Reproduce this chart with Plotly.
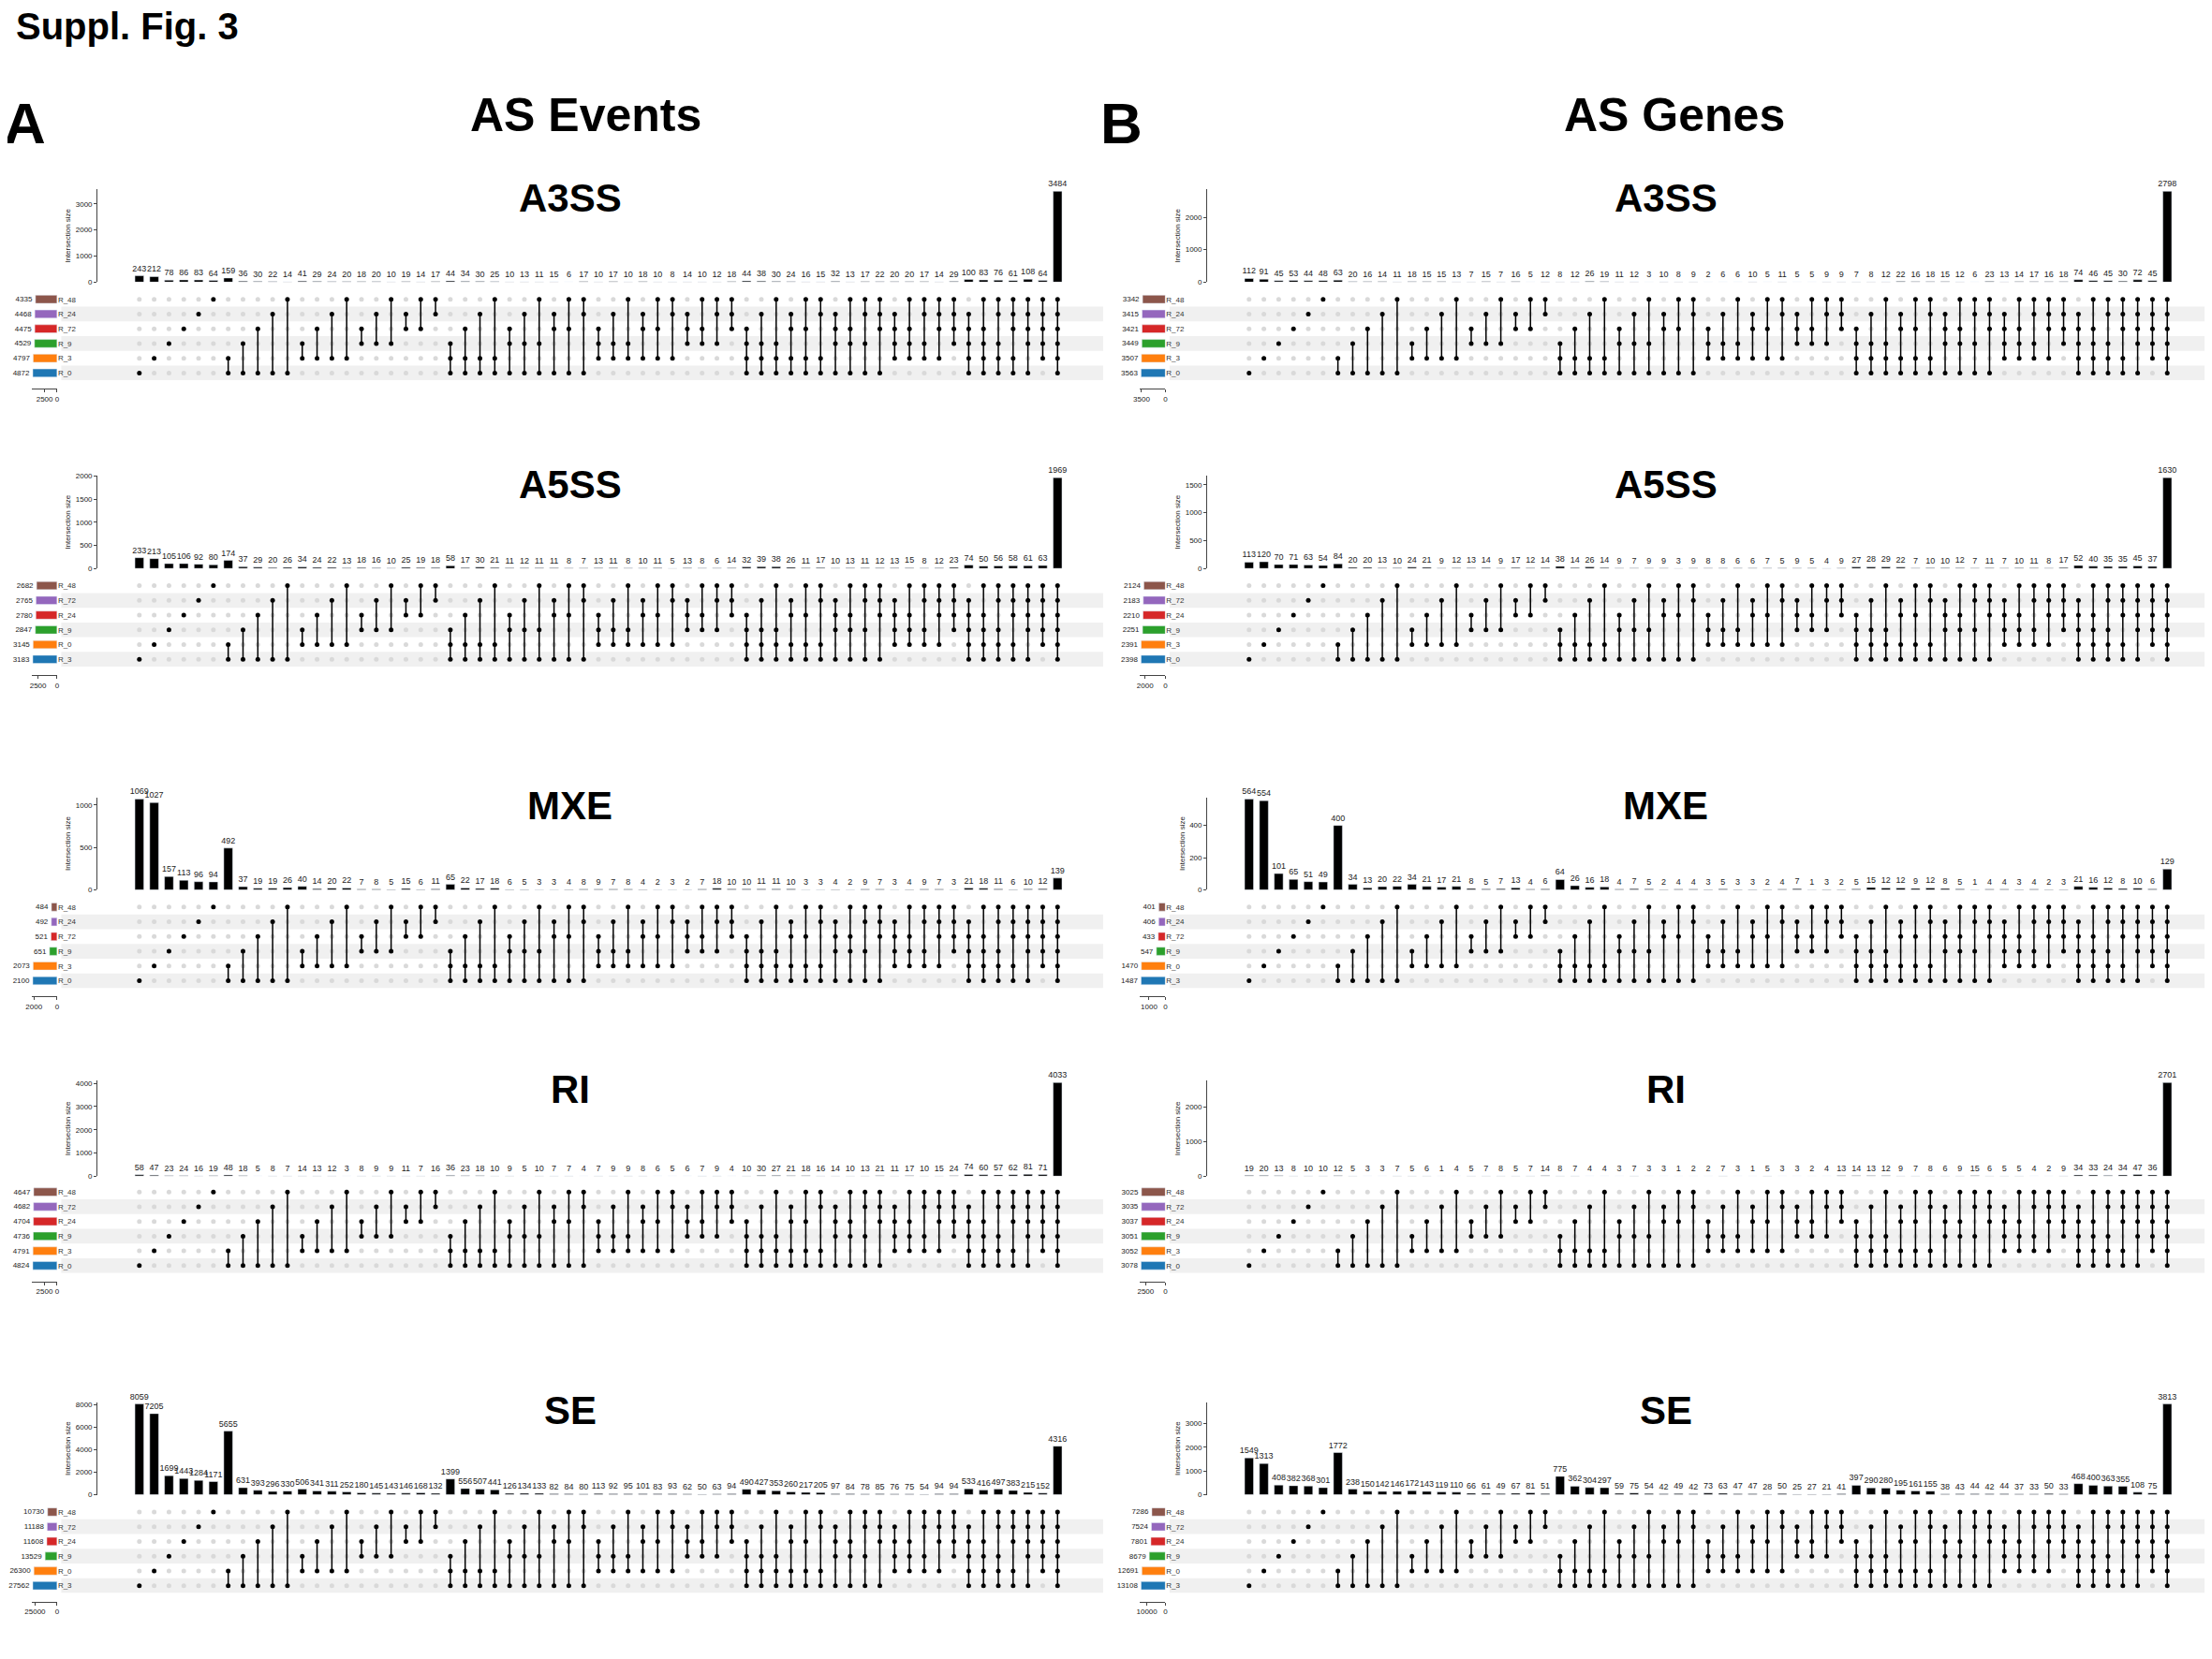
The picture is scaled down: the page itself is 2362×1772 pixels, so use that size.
import itertools
import plotly.graph_objects as go

# ---------------- data ----------------
titles = ["A3SS", "A5SS", "MXE", "RI", "SE"]

ev_a3ss = [243,212,78,86,83,64,159,36,30,22,14,41,29,24,20,18,20,10,19,14,17,44,34,30,25,10,13,11,15,6,17,10,17,10,18,10,8,14,10,12,18,44,38,30,24,16,15,32,13,17,22,20,20,17,14,29,100,83,76,61,108,64,3484]
ev_a5ss = [233,213,105,106,92,80,174,37,29,20,26,34,24,22,13,18,16,10,25,19,18,58,17,30,21,11,12,11,11,8,7,13,11,8,10,11,5,13,8,6,14,32,39,38,26,11,17,10,13,11,12,13,15,8,12,23,74,50,56,58,61,63,1969]
ev_mxe = [1069,1027,157,113,96,94,492,37,19,19,26,40,14,20,22,7,8,5,15,6,11,65,22,17,18,6,5,3,3,4,8,9,7,8,4,2,3,2,7,18,10,10,11,11,10,3,3,4,2,9,7,3,4,9,7,3,21,18,11,6,10,12,139]
ev_ri = [58,47,23,24,16,19,48,18,5,8,7,14,13,12,3,8,9,9,11,7,16,36,23,18,10,9,5,10,7,7,4,7,9,9,8,6,5,6,7,9,4,10,30,27,21,18,16,14,10,13,21,11,17,10,15,24,74,60,57,62,81,71,4033]
ev_se = [8059,7205,1699,1443,1284,1171,5655,631,393,296,330,506,341,311,252,180,145,143,146,168,132,1399,556,507,441,126,134,133,82,84,80,113,92,95,101,83,93,62,50,63,94,490,427,353,260,217,205,97,84,78,85,76,75,54,94,94,533,416,497,383,215,152,4316]

ge_a3ss = [112,91,45,53,44,48,63,20,16,14,11,18,15,15,13,7,15,7,16,5,12,8,12,26,19,11,12,3,10,8,9,2,6,6,10,5,11,5,5,9,9,7,8,12,22,16,18,15,12,6,23,13,14,17,16,18,74,46,45,30,72,45,2798]
ge_a5ss = [113,120,70,71,63,54,84,20,20,13,10,24,21,9,12,13,14,9,17,12,14,38,14,26,14,9,7,9,9,3,9,8,8,6,6,7,5,9,5,4,9,27,28,29,22,7,10,10,12,7,11,7,10,11,8,17,52,40,35,35,45,37,1630]
ge_mxe = [564,554,101,65,51,49,400,34,13,20,22,34,21,17,21,8,5,7,13,4,6,64,26,16,18,4,7,5,2,4,4,3,5,3,3,2,4,7,1,3,2,5,15,12,12,9,12,8,5,1,4,4,3,4,2,3,21,16,12,8,10,6,129]
ge_ri = [19,20,13,8,10,10,12,5,3,3,7,5,6,1,4,5,7,8,5,7,14,8,7,4,4,3,7,3,3,1,2,2,7,3,1,5,3,3,2,4,13,14,13,12,9,7,8,6,9,15,6,5,5,4,2,9,34,33,24,34,47,36,2701]
ge_se = [1549,1313,408,382,368,301,1772,238,150,142,146,172,143,119,110,66,61,49,67,81,51,775,362,304,297,59,75,54,42,49,42,73,63,47,47,28,50,25,27,21,41,397,290,280,195,161,155,38,43,44,42,44,37,33,50,33,468,400,363,355,108,75,3813]

# set names / sizes listed top-to-bottom, plus the set-size axis tick
ev_sets = [
    (["R_48","R_24","R_72","R_9","R_3","R_0"], [4335,4468,4475,4529,4797,4872], 2500),
    (["R_48","R_72","R_24","R_9","R_0","R_3"], [2682,2765,2780,2847,3145,3183], 2500),
    (["R_48","R_24","R_72","R_9","R_3","R_0"], [484,492,521,651,2073,2100], 2000),
    (["R_48","R_72","R_24","R_9","R_3","R_0"], [4647,4682,4704,4736,4791,4824], 2500),
    (["R_48","R_72","R_24","R_9","R_0","R_3"], [10730,11188,11608,13529,26300,27562], 25000),
]
ge_sets = [
    (["R_48","R_24","R_72","R_9","R_3","R_0"], [3342,3415,3421,3449,3507,3563], 3500),
    (["R_48","R_72","R_24","R_9","R_3","R_0"], [2124,2183,2210,2251,2391,2398], 2000),
    (["R_48","R_24","R_72","R_9","R_0","R_3"], [401,406,433,547,1470,1487], 1000),
    (["R_48","R_72","R_24","R_9","R_3","R_0"], [3025,3035,3037,3051,3052,3078], 2500),
    (["R_48","R_72","R_24","R_9","R_0","R_3"], [7286,7524,7801,8679,12691,13108], 10000),
]
row_colors = ["#8c564b", "#9467bd", "#d62728", "#2ca02c", "#ff7f0e", "#1f77b4"]

# ---------------- layout helpers ----------------
W, H = 1568.0, 1176.0
def px(x): return max(0.0, ((x - 11.6) / 0.9937) / W)
def py(y): return min(1.0, 1 - (y - 6) / H)

rows_y = [(133, 199, 206, 269), (337, 403, 410, 473), (566, 632, 639, 702),
          (768, 836, 842, 905), (997, 1063, 1070, 1133)]
cols_x = [dict(set=(24, 42), mat=(95, 755), stripe=(45, 782), bar=(95, 755)),
          dict(set=(808, 826), mat=(880, 1540), stripe=(829, 1566), bar=(880, 1540))]

combos = []
for k in range(1, 7):
    combos += list(itertools.combinations(range(6), k))

fig = go.Figure()
layout = {}
shapes = []
annotations = []
FONT = "Liberation Sans, Arial, sans-serif"

panels = [(0, i, [ev_a3ss, ev_a5ss, ev_mxe, ev_ri, ev_se][i], ev_sets[i]) for i in range(5)] + \
         [(1, i, [ge_a3ss, ge_a5ss, ge_mxe, ge_ri, ge_se][i], ge_sets[i]) for i in range(5)]

for p, (c, r, vals, (names, sizes, stick)) in enumerate(panels):
    nb, nm, ns = 3 * p + 1, 3 * p + 2, 3 * p + 3
    def ax(n): return "" if n == 1 else str(n)
    cx, ry = cols_x[c], rows_y[r]
    n = len(vals)
    xs = list(range(n))
    fig.add_trace(go.Bar(x=xs, y=vals, text=[str(v) for v in vals], textposition="outside",
                         constraintext="none", textangle=0,
                         textfont=dict(size=9, color="#222"), marker_color="black", width=0.6,
                         cliponaxis=False, xaxis="x" + ax(nb), yaxis="y" + ax(nb), showlegend=False))
    layout["xaxis" + ax(nb)] = dict(domain=[px(cx["bar"][0]), px(cx["bar"][1])], range=[-0.5, n - 0.5],
                                   anchor="y" + ax(nb), showticklabels=False, showgrid=False, zeroline=False)
    layout["yaxis" + ax(nb)] = dict(domain=[py(ry[1]), py(ry[0])], range=[0, max(vals) * 1.02],
                                   anchor="free", position=px(cx["bar"][0] - 25), showgrid=False, zeroline=False,
                                   showline=True, linecolor="#444", ticks="outside", ticklen=3, nticks=5,
                                   tickfont=dict(size=8), title=dict(text="Intersection size", font=dict(size=8), standoff=2))
    gx, gy, bx, by, lx, ly = [], [], [], [], [], []
    for j, cmb in enumerate(combos[:n]):
        for k in range(6):
            if k in cmb:
                bx.append(j); by.append(k)
            else:
                gx.append(j); gy.append(k)
        if len(cmb) > 1:
            lx += [j, j, None]; ly += [min(cmb), max(cmb), None]
    fig.add_trace(go.Scatter(x=gx, y=gy, mode="markers", marker=dict(size=5, color="#d9d9d9"),
                             xaxis="x" + ax(nm), yaxis="y" + ax(nm), showlegend=False, hoverinfo="skip"))
    fig.add_trace(go.Scatter(x=lx, y=ly, mode="lines", line=dict(color="black", width=1.5),
                             xaxis="x" + ax(nm), yaxis="y" + ax(nm), showlegend=False, hoverinfo="skip"))
    fig.add_trace(go.Scatter(x=bx, y=by, mode="markers", marker=dict(size=5, color="black"),
                             xaxis="x" + ax(nm), yaxis="y" + ax(nm), showlegend=False, hoverinfo="skip"))
    layout["xaxis" + ax(nm)] = dict(domain=[px(cx["mat"][0]), px(cx["mat"][1])], range=[-0.5, n - 0.5],
                                   anchor="y" + ax(nm), visible=False)
    layout["yaxis" + ax(nm)] = dict(domain=[py(ry[3]), py(ry[2])], range=[-0.5, 5.5],
                                   anchor="x" + ax(nm), visible=False)
    for k in (0, 2, 4):
        shapes.append(dict(type="rect", xref="paper", yref="y" + ax(nm), x0=px(cx["stripe"][0]),
                           x1=min(1.0, px(cx["stripe"][1])), y0=k - 0.5, y1=k + 0.5, fillcolor="#f0f0f0",
                           line_width=0, layer="below"))
    sy = [5 - t for t in range(6)]
    fig.add_trace(go.Bar(x=sizes, y=sy, orientation="h", marker_color=row_colors, width=0.55,
                         text=[str(s) for s in sizes], textposition="outside", constraintext="none",
                         textangle=0, textfont=dict(size=8, color="#222"),
                         cliponaxis=False, xaxis="x" + ax(ns), yaxis="y" + ax(ns), showlegend=False))
    layout["xaxis" + ax(ns)] = dict(domain=[px(cx["set"][0]), px(cx["set"][1])],
                                   range=[max(sizes) * 1.05, 0], anchor="free", position=py(ry[3] + 6),
                                   tickvals=[stick, 0], ticktext=[str(stick), "0"], tickangle=0,
                                   ticks="outside", ticklen=3, showline=True,
                                   linecolor="#444", showgrid=False, zeroline=False, tickfont=dict(size=8))
    layout["yaxis" + ax(ns)] = dict(domain=[py(ry[3]), py(ry[2])], range=[-0.5, 5.5], anchor="x" + ax(ns),
                                   side="right", tickvals=sy, ticktext=names, showgrid=False, zeroline=False,
                                   showline=False, ticks="", tickfont=dict(size=8, color="#333"))
    annotations.append(dict(text="<b>%s</b>" % titles[r], xref="paper", yref="paper",
                            x=px([405, 1180][c]), y=py(ry[0] + 6), xanchor="center", yanchor="middle",
                            showarrow=False, font=dict(size=42, color="black", family=FONT)))

def hdr(text, x, y, size):
    return dict(text="<b>%s</b>" % text, x=px(x), y=py(y), xref="paper", yref="paper",
                xanchor="center", yanchor="middle", showarrow=False,
                font=dict(size=size, color="black", family=FONT))

annotations += [
    dict(text="<b>Suppl. Fig. 3</b>", x=0.0, y=py(17), xanchor="left", yanchor="middle",
         xref="paper", yref="paper", showarrow=False, font=dict(size=40, family=FONT, color="black")),
    hdr("A", 19, 86, 62), hdr("B", 795, 86, 62),
    hdr("AS Events", 416, 80, 50), hdr("AS Genes", 1186, 80, 50),
]

fig.update_layout(width=2362, height=1772, margin=dict(l=0, r=0, t=0, b=0),
                  paper_bgcolor="white", plot_bgcolor="rgba(0,0,0,0)",
                  font=dict(family=FONT, color="#222"), shapes=shapes, annotations=annotations,
                  bargap=0.4, **layout)
fig.write_html("out.html")
